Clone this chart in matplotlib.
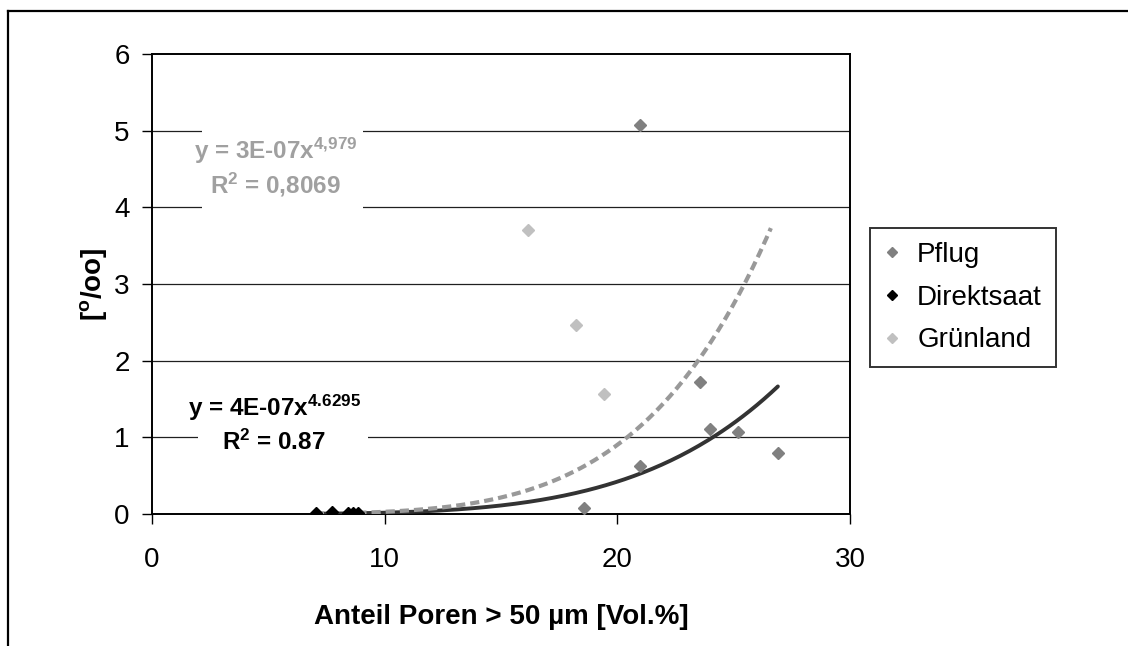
import numpy as np
import matplotlib
matplotlib.use("Agg")
import matplotlib.pyplot as plt
from matplotlib.lines import Line2D
from matplotlib.patches import Rectangle

plt.rcParams['font.family'] = ['Liberation Sans', 'DejaVu Sans']
plt.rcParams['mathtext.fontset'] = 'custom'
plt.rcParams['mathtext.rm'] = 'Liberation Sans'
plt.rcParams['mathtext.it'] = 'Liberation Sans:italic'
plt.rcParams['mathtext.bf'] = 'Liberation Sans:bold'

# Measurements: macropore share [Vol.%] vs. value [per mille]
pflug_x = [20.97, 18.58, 20.97, 23.55, 23.98, 25.19, 26.91]
pflug_y = [5.08, 0.08, 0.63, 1.72, 1.11, 1.07, 0.80]

direkt_x = [7.05, 7.72, 8.44, 8.65, 8.87]
direkt_y = [0.01, 0.02, 0.01, 0.01, 0.01]

gruen_x = [16.17, 18.24, 19.44]
gruen_y = [3.70, 2.47, 1.56]

# Power-law trendlines y = a * x^b
fit_solid = dict(a=4e-7, b=4.6295, x0=7.0, x1=26.9)
fit_dashed = dict(a=3e-7, b=4.979, x0=7.0, x1=26.6)

x_ticks = [0, 10, 20, 30]
y_ticks = [0, 1, 2, 3, 4, 5, 6]

W, H = 1128, 646
fig = plt.figure(figsize=(W / 100, H / 100), dpi=100)
fig.patch.set_facecolor('white')

# outer chart frame (top and left edges visible)
fig.add_artist(Line2D([8 / W, 8 / W], [0, 1 - 11 / H], color='black', lw=1.6,
                      transform=fig.transFigure))
fig.add_artist(Line2D([8 / W, 1], [1 - 11 / H, 1 - 11 / H], color='black', lw=1.6,
                      transform=fig.transFigure))

ax = fig.add_axes([152 / W, 1 - 514 / H, (850 - 152) / W, (514 - 54) / H])
ax.set_xlim(0, 30)
ax.set_ylim(0, 6)
ax.set_xticks(x_ticks)
ax.set_yticks(y_ticks)
ax.tick_params(axis='both', labelsize=20, direction='out', length=7, width=1, color='black')
ax.tick_params(axis='x', pad=17)
ax.tick_params(axis='y', pad=9)
for s in ax.spines.values():
    s.set_linewidth(1.4)
    s.set_color('black')

for yv in y_ticks[1:-1]:
    ax.axhline(yv, color='#202020', lw=0.9, zorder=1)

# trendlines
xs = np.linspace(fit_solid['x0'], fit_solid['x1'], 200)
ax.plot(xs, fit_solid['a'] * xs ** fit_solid['b'], color='#333333', lw=2.8,
        solid_capstyle='round', zorder=3)
xd = np.linspace(fit_dashed['x0'], fit_dashed['x1'], 200)
ax.plot(xd, fit_dashed['a'] * xd ** fit_dashed['b'], color='#999999', lw=3.0,
        dashes=(2.2, 1.2), zorder=3)

ax.plot(pflug_x, pflug_y, 'D', color='#808080', ms=6.5, ls='none', label='Pflug', zorder=4)
ax.plot(direkt_x, direkt_y, 'D', color='black', ms=6.5, ls='none', label='Direktsaat', zorder=4)
ax.plot(gruen_x, gruen_y, 'D', color='#c0c0c0', ms=6.5, ls='none', label='Grünland', zorder=4)

# equation labels on white boxes
ax.add_patch(Rectangle((2.15, 3.8), 6.9, 1.35, facecolor='white', edgecolor='none', zorder=2))
ax.text(5.3, 4.74, r'y = 3E-07x$^{\mathbf{4{,}979}}$', ha='center', va='center',
        fontsize=17.5, fontweight='bold', color='#a0a0a0', zorder=5)
ax.text(5.3, 4.29, r'R$^{\mathbf{2}}$ = 0,8069', ha='center', va='center',
        fontsize=17.5, fontweight='bold', color='#a0a0a0', zorder=5)

ax.add_patch(Rectangle((1.98, 0.55), 7.3, 1.15, facecolor='white', edgecolor='none', zorder=2))
ax.text(5.25, 1.38, r'y = 4E-07x$^{\mathbf{4.6295}}$', ha='center', va='center',
        fontsize=17.5, fontweight='bold', color='black', zorder=5)
ax.text(5.25, 0.94, r'R$^{\mathbf{2}}$ = 0.87', ha='center', va='center',
        fontsize=17.5, fontweight='bold', color='black', zorder=5)

ax.set_xlabel('Anteil Poren > 50 µm [Vol.%]', fontsize=20, fontweight='bold', labelpad=22)
ax.set_ylabel(r'[$\mathbf{^{o}}$/oo]', fontsize=20, fontweight='bold', labelpad=4)

leg = ax.legend(loc='upper left', bbox_to_anchor=(870 / W, 1 - 228 / H),
                bbox_transform=fig.transFigure, fontsize=20, frameon=True,
                fancybox=False, edgecolor='black', markerscale=0.75,
                handlelength=0.6, handletextpad=0.6, labelspacing=0.6,
                borderpad=0.5, borderaxespad=0)
leg.get_frame().set_linewidth(1.4)

fig.savefig('out.png', dpi=100, facecolor='white')
